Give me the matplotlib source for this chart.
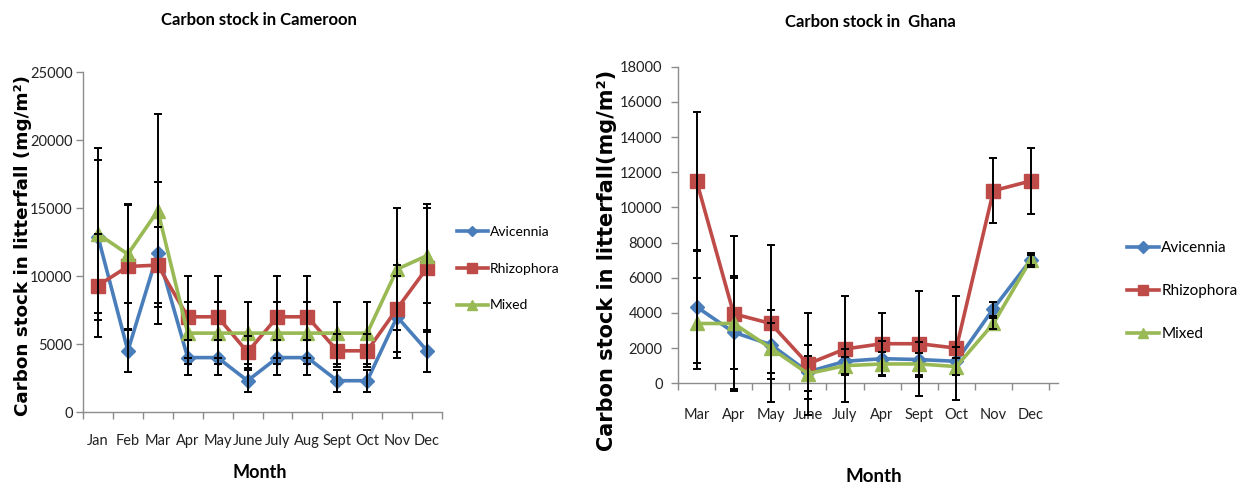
import numpy as np
import matplotlib
matplotlib.use("Agg")
import matplotlib.pyplot as plt

# ---- Cameroon: monthly carbon stock in litterfall (mg/m2) ----
cam_months = ["Jan", "Feb", "Mar", "Apr", "May", "June", "July", "Aug",
              "Sept", "Oct", "Nov", "Dec"]
cam_avicennia = [12900, 4500, 11700, 4000, 4000, 2300, 4000, 4000, 2300, 2300, 7000, 4500]
cam_rhizophora = [9300, 10700, 10800, 7000, 7000, 4400, 7000, 7000, 4500, 4500, 7600, 10600]
cam_mixed = [13100, 11600, 14800, 5800, 5800, 5800, 5800, 5800, 5800, 5800, 10500, 11500]
cam_avicennia_err = [5600, 1550, 5200, 1300, 1300, 800, 1300, 1300, 800, 800, 3000, 1550]
cam_rhizophora_err = [3800, 4600, 2800, 3000, 3000, 1200, 3000, 3000, 1200, 1200, 3200, 4700]
cam_mixed_err = [6300, 3600, 7100, 2300, 2300, 2300, 2300, 2300, 2300, 2300, 4500, 3500]

# ---- Ghana ----
gha_months = ["Mar", "Apr", "May", "June", "July", "Apr", "Sept", "Oct", "Nov", "Dec"]
gha_avicennia = [4350, 2900, 2200, 650, 1250, 1400, 1350, 1250, 4250, 7000]
gha_rhizophora = [11500, 3950, 3400, 1100, 1950, 2250, 2250, 2000, 10950, 11500]
gha_mixed = [3400, 3400, 2000, 550, 1000, 1100, 1100, 950, 3400, 7000]
gha_avicennia_err = [3200, 3200, 1950, 1550, 700, 1000, 1000, 800, 400, 400]
gha_rhizophora_err = [3900, 4400, 4450, 2900, 3000, 1750, 3000, 2950, 1850, 1850]
gha_mixed_err = [2600, 2600, 1400, 1000, 500, 700, 600, 500, 300, 300]

series_names = ["Avicennia", "Rhizophora", "Mixed"]

STYLES = {
    "Avicennia": dict(color="#4A7EBB", marker="D", ms=7.5),
    "Rhizophora": dict(color="#BE4B48", marker="s", ms=10),
    "Mixed": dict(color="#98B954", marker="^", ms=10),
}
AXIS_GRAY = "#8c8c8c"
plt.rcParams["font.family"] = ["Lato", "DejaVu Sans"]

W, H = 1245, 493
fig = plt.figure(figsize=(W / 100, H / 100), dpi=100)


def px_axes(left, top, right, bottom):
    return fig.add_axes([left / W, 1 - bottom / H, (right - left) / W, (bottom - top) / H])


def draw_panel(ax, months, values, errors, ymax, ystep, xright, xpad, ypad):
    x = np.arange(len(months))
    handles = []
    for i, (name, vals, err) in enumerate(zip(series_names, values, errors)):
        st = STYLES[name]
        (ln,) = ax.plot(x, vals, color=st["color"], lw=2.6, marker=st["marker"],
                        ms=st["ms"], mec=st["color"], mfc=st["color"],
                        zorder=2 + i * 0.1, label=name)
        handles.append(ln)
        eb = ax.errorbar(x, vals, yerr=err, fmt="none", ecolor="black",
                         elinewidth=1.4, capsize=3.2, capthick=1.4, zorder=4)
        for art in list(eb.lines[1]) + list(eb.lines[2]):
            art.set_clip_on(False)

    ax.set_xlim(-0.5, xright)
    ax.set_ylim(0, ymax)
    ax.set_xticks(x)
    ax.set_xticklabels(months)
    ax.set_xticks(np.arange(-0.5, len(months)), minor=True)
    ax.tick_params(axis="x", which="major", length=0, pad=xpad, labelsize=10.5,
                   labelcolor="#222222")
    ax.tick_params(axis="x", which="minor", length=5, width=1, color=AXIS_GRAY,
                   direction="out")
    ax.set_yticks(np.arange(0, ymax + 1, ystep))
    ax.tick_params(axis="y", length=5, width=1, color=AXIS_GRAY, pad=ypad,
                   labelsize=10.5, labelcolor="#222222")
    for side in ("top", "right"):
        ax.spines[side].set_visible(False)
    for side in ("left", "bottom"):
        ax.spines[side].set_color(AXIS_GRAY)
        ax.spines[side].set_linewidth(1)
    return handles


# Cameroon panel
ax1 = px_axes(83, 72, 442, 412)
h1 = draw_panel(ax1, cam_months,
                [cam_avicennia, cam_rhizophora, cam_mixed],
                [cam_avicennia_err, cam_rhizophora_err, cam_mixed_err],
                25000, 5000, 11.5, 16, 2.5)

# Ghana panel
ax2 = px_axes(678, 66.7, 1058, 383.3)
h2 = draw_panel(ax2, gha_months,
                [gha_avicennia, gha_rhizophora, gha_mixed],
                [gha_avicennia_err, gha_rhizophora_err, gha_mixed_err],
                18000, 2000, 9.74, 18, 6)

# Titles
fig.text(259 / W, 1 - 20 / H, "Carbon stock in Cameroon", ha="center", va="center",
         fontsize=12, fontweight="bold")
fig.text(870 / W, 1 - 22 / H, "Carbon stock in  Ghana", ha="center", va="center",
         fontsize=12, fontweight="bold")

# Axis labels
fig.text(23 / W, 1 - 245 / H, "Carbon stock in litterfall (mg/m²)", rotation=90,
         ha="center", va="center", fontsize=13.2, fontweight="bold",
         family=["DejaVu Sans"])
fig.text(607 / W, 1 - 260 / H, "Carbon stock in litterfall(mg/m²)", rotation=90,
         ha="center", va="center", fontsize=15, fontweight="bold",
         family=["DejaVu Sans"])
fig.text(260 / W, 1 - 473 / H, "Month", ha="center", va="center",
         fontsize=13, fontweight="bold")
fig.text(874 / W, 1 - 477 / H, "Month", ha="center", va="center",
         fontsize=13.5, fontweight="bold")

# Legends
fig.legend(handles=h1, labels=series_names, loc="upper left",
           bbox_to_anchor=(457 / W, 1 - 226 / H), bbox_transform=fig.transFigure,
           frameon=False, fontsize=10, handlelength=2.2, handletextpad=0.15,
           labelspacing=1.78, borderpad=0, borderaxespad=0, markerscale=0.7)
fig.legend(handles=h2, labels=series_names, loc="upper left",
           bbox_to_anchor=(1127 / W, 1 - 241 / H), bbox_transform=fig.transFigure,
           frameon=False, fontsize=11, handlelength=2.1, handletextpad=0.15,
           labelspacing=1.9, borderpad=0, borderaxespad=0, markerscale=0.75)

fig.savefig("out.png", dpi=100, facecolor="white")
